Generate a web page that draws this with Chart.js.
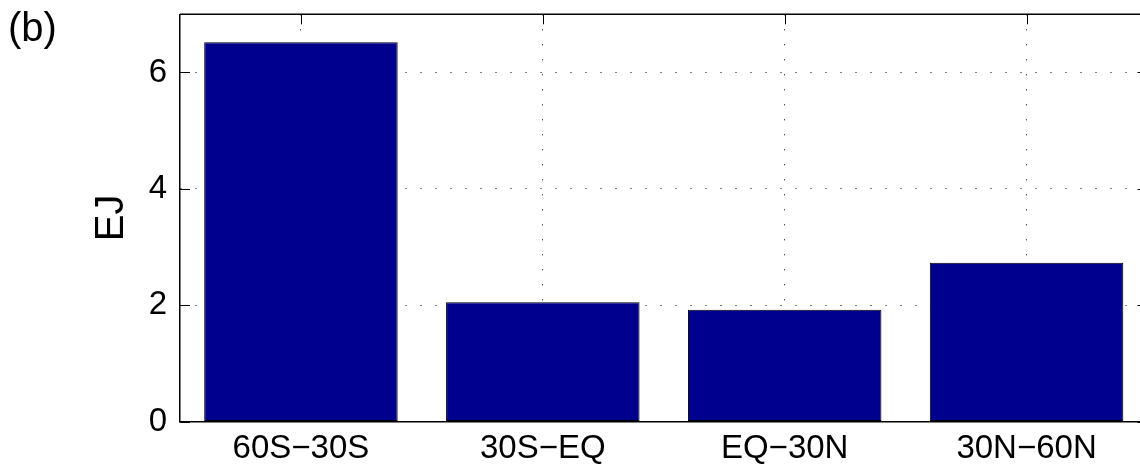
<!DOCTYPE html>
<html>
<head>
<meta charset="utf-8">
<script src="https://cdn.jsdelivr.net/npm/chart.js@4/dist/chart.umd.min.js"></script>
<style>
  html, body { margin: 0; padding: 0; background: #fff; overflow: hidden; }
  #wrap { position: absolute; left: 0; top: 0; width: 1150px; height: 468px; }
  #panel {
    position: absolute; left: 8px; top: 7px;
    font-family: "Liberation Sans", Arial, sans-serif;
    font-size: 40px; line-height: 40px; color: #000;
  }
</style>
</head>
<body>
<div id="wrap"><canvas id="chart"></canvas></div>
<div id="panel">(b)</div>
<script>
// Latitude bands and energy per band (EJ)
const categories = ['60S\u221230S', '30S\u2212EQ', 'EQ\u221230N', '30N\u221260N'];
const energyEJ = [6.52, 2.05, 1.92, 2.73];
const yTicks = [0, 2, 4, 6];
const yMin = 0;
const yMax = 7;

const FONT = '"Liberation Sans", Arial, sans-serif';
const TICK_LEN = 10;

// Closes the axes box (top/right) and draws inward tick marks
const boxAndTicks = {
  id: 'boxAndTicks',
  beforeDatasetsDraw(chart) {
    const { ctx, chartArea: a, scales: { x, y } } = chart;
    ctx.save();
    ctx.strokeStyle = '#000';
    ctx.lineWidth = 1.5;
    ctx.beginPath();
    ctx.moveTo(a.left, a.top);
    ctx.lineTo(a.right, a.top);
    ctx.lineTo(a.right, a.bottom);
    ctx.stroke();
    ctx.lineWidth = 1;
    ctx.beginPath();
    x.ticks.forEach((t, i) => {
      const px = Math.round(x.getPixelForTick(i)) + 0.5;
      ctx.moveTo(px, a.top); ctx.lineTo(px, a.top + TICK_LEN);
      ctx.moveTo(px, a.bottom); ctx.lineTo(px, a.bottom - TICK_LEN);
    });
    yTicks.forEach(v => {
      const py = Math.round(y.getPixelForValue(v)) + 0.5;
      ctx.moveTo(a.left, py); ctx.lineTo(a.left + TICK_LEN, py);
      ctx.moveTo(a.right, py); ctx.lineTo(a.right - TICK_LEN, py);
    });
    ctx.stroke();
    ctx.restore();
  }
};

new Chart(document.getElementById('chart'), {
  type: 'bar',
  data: {
    labels: categories,
    datasets: [{
      data: energyEJ,
      backgroundColor: '#00008F',
      borderColor: '#000',
      borderWidth: 1,
      borderSkipped: false,
      barPercentage: 0.8,
      categoryPercentage: 1.0
    }]
  },
  options: {
    responsive: true,
    maintainAspectRatio: false,
    devicePixelRatio: 1,
    animation: false,
    events: [],
    layout: { padding: { top: 14.3, right: 2.5, bottom: 0, left: 0 } },
    plugins: { legend: { display: false }, tooltip: { enabled: false } },
    scales: {
      x: {
        type: 'category',
        offset: true,
        afterFit(s) {
          s.height = 46.5;
          s.paddingLeft = 0; s.paddingRight = 0;
        },
        grid: {
          offset: false,
          drawTicks: false,
          color: '#000',
          lineWidth: 1
        },
        border: { display: true, color: '#000', width: 1.5, dash: [1, 14] },
        ticks: {
          color: '#000',
          font: { family: FONT, size: 33 },
          padding: 8,
          maxRotation: 0,
          autoSkip: false
        }
      },
      y: {
        min: yMin,
        max: yMax,
        afterFit(s) {
          s.width = 180;
          s.paddingTop = 0; s.paddingBottom = 0;
        },
        afterBuildTicks(s) { s.ticks = yTicks.map(v => ({ value: v })); },
        grid: {
          drawTicks: false,
          color: '#000',
          lineWidth: 1
        },
        border: { display: true, color: '#000', width: 1.5, dash: [1, 14] },
        ticks: {
          color: '#000',
          font: { family: FONT, size: 33 },
          padding: 13
        },
        title: {
          display: true,
          text: 'EJ',
          color: '#000',
          font: { family: FONT, size: 40 },
          padding: { top: 88, bottom: 0 }
        }
      }
    }
  },
  plugins: [boxAndTicks]
});
</script>
</body>
</html>
